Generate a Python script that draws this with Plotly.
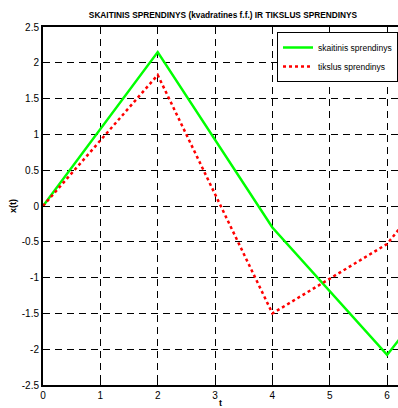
import math
import plotly.graph_objects as go

# Piecewise solutions sampled at the grid nodes
t_nodes = [0, 2, 4, 6, 2 * math.pi]
x_numeric = [0.0, 2.15, -0.30, -2.08, -1.79]   # skaitinis sprendinys
x_exact = [0.0, 1.83, -1.50, -0.53, -0.25]     # tikslus sprendinys

x_ticks = [0, 1, 2, 3, 4, 5, 6]
y_ticks = [-2.5, -2, -1.5, -1, -0.5, 0, 0.5, 1, 1.5, 2, 2.5]
y_ticklabels = ["-2.5", "-2", "-1.5", "-1", "-0.5", "0", "0.5", "1", "1.5", "2", "2.5"]

font_main = "Liberation Sans, Arial, sans-serif"

fig = go.Figure()
fig.add_trace(go.Scatter(
    x=t_nodes, y=x_numeric, mode="lines", name="skaitinis sprendinys",
    line=dict(color="#00ff00", width=2.5),
))
fig.add_trace(go.Scatter(
    x=t_nodes, y=x_exact, mode="lines", name="tikslus sprendinys",
    line=dict(color="#ff0000", width=2.5, dash="dot"),
))

axis_common = dict(
    showgrid=True, gridcolor="black", gridwidth=1, griddash="7px,5px",
    zeroline=False, showline=True, linecolor="black", linewidth=2,
    mirror="ticks", ticks="inside", ticklen=5, tickcolor="black",
    tickfont=dict(family=font_main, size=10, color="black"),
)

fig.update_layout(
    width=398, height=408,
    margin=dict(l=43, r=0, t=27, b=23, autoexpand=False),
    paper_bgcolor="white", plot_bgcolor="white",
    title=dict(
        text="<b>SKAITINIS SPRENDINYS (kvadratines f.f.) IR TIKSLUS SPRENDINYS</b>",
        font=dict(family=font_main, size=8.3, color="black"),
        x=223 / 398, xanchor="center", y=1 - 15 / 408, yanchor="middle",
    ),
    xaxis=dict(
        range=[0, 6.19], tickvals=x_ticks,
        title=dict(text="<b>t</b>", font=dict(family=font_main, size=9, color="black"), standoff=2),
        **axis_common,
    ),
    yaxis=dict(
        range=[-2.5, 2.5], tickvals=y_ticks, ticktext=y_ticklabels,
        title=dict(text="<b>x(t)</b>", font=dict(family=font_main, size=9, color="black"), standoff=4),
        **axis_common,
    ),
    legend=dict(
        x=1, y=(385 - 32) / 358, xanchor="right", yanchor="top",
        bgcolor="white", bordercolor="black", borderwidth=1,
        font=dict(family=font_main, size=8.5, color="black"),
        tracegroupgap=0, itemwidth=30,
    ),
    showlegend=True,
)

fig.write_html("out.html")
